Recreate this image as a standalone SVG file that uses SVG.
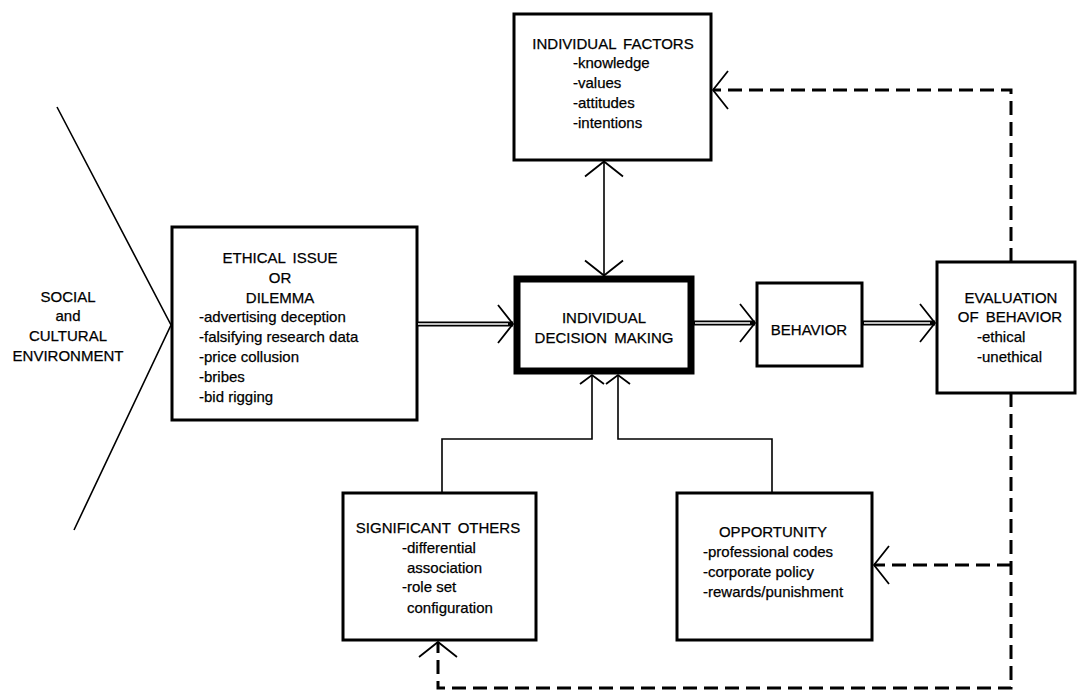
<svg xmlns="http://www.w3.org/2000/svg" width="1082" height="692" viewBox="0 0 1082 692">
<style>
text{font-family:"Liberation Sans",Arial,sans-serif;font-size:15px;fill:#000;stroke:#000;stroke-width:0.25}
.c{text-anchor:middle}
.box{fill:#fff;stroke:#000;stroke-width:3}
.thick{fill:#fff;stroke:#000;stroke-width:7}
.thin{fill:none;stroke:#000;stroke-width:1.6}
.dash{fill:none;stroke:#000;stroke-width:3;stroke-dasharray:14 7}
.dbl{fill:none;stroke:#000;stroke-width:5}
.dblw{fill:none;stroke:#fff;stroke-width:1.4}
</style>
<defs>
<marker id="ah" markerUnits="userSpaceOnUse" orient="auto-start-reverse" markerWidth="44" markerHeight="44" viewBox="-22 -22 44 44" refX="0" refY="0" overflow="visible">
<path d="M-15,-19 L0,0 L-15,19" fill="none" stroke="#000" stroke-width="1.8" stroke-dasharray="none"/>
</marker>
<marker id="ahs" markerUnits="userSpaceOnUse" orient="auto" markerWidth="30" markerHeight="30" viewBox="-15 -15 30 30" refX="0" refY="0" overflow="visible">
<path d="M-9,-12 L0,0 L-9,12" fill="none" stroke="#000" stroke-width="1.8"/>
</marker>
</defs>

<g id="environment">
<path class="thin" d="M57,107 L171,325 L74,530"/>
<text class="c" x="68" y="302">SOCIAL</text>
<text class="c" x="68" y="321">and</text>
<text class="c" x="68" y="341">CULTURAL</text>
<text class="c" x="68" y="361">ENVIRONMENT</text>
</g>

<g id="individual-factors">
<rect class="box" x="514" y="14" width="197" height="146"/>
<text class="c" x="613" y="49" word-spacing="3">INDIVIDUAL FACTORS</text>
<text x="573" y="68">-knowledge</text>
<text x="573" y="88">-values</text>
<text x="573" y="108">-attitudes</text>
<text x="573" y="128">-intentions</text>
</g>

<g id="ethical-issue">
<rect class="box" x="172" y="227" width="245" height="193"/>
<text class="c" x="280" y="263" word-spacing="3">ETHICAL ISSUE</text>
<text class="c" x="280" y="283">OR</text>
<text class="c" x="280" y="303">DILEMMA</text>
<text x="199" y="322">-advertising deception</text>
<text x="199" y="342">-falsifying research data</text>
<text x="199" y="362">-price collusion</text>
<text x="199" y="382">-bribes</text>
<text x="199" y="402">-bid rigging</text>
</g>

<g id="decision-making">
<rect class="thick" x="517" y="279" width="174" height="92"/>
<text class="c" x="604" y="323">INDIVIDUAL</text>
<text class="c" x="604" y="343" word-spacing="3">DECISION MAKING</text>
</g>

<g id="behavior">
<rect class="box" x="757" y="283" width="105" height="83"/>
<text class="c" x="809" y="335">BEHAVIOR</text>
</g>

<g id="evaluation">
<rect class="box" x="937" y="262" width="138" height="131"/>
<text class="c" x="1011" y="303">EVALUATION</text>
<text class="c" x="1010" y="322" word-spacing="3">OF BEHAVIOR</text>
<text x="977" y="342">-ethical</text>
<text x="977" y="362">-unethical</text>
</g>

<g id="significant-others">
<rect class="box" x="343" y="493" width="193" height="147"/>
<text class="c" x="438" y="533" word-spacing="3">SIGNIFICANT OTHERS</text>
<text x="402" y="553">-differential</text>
<text x="407" y="573">association</text>
<text x="402" y="592">-role set</text>
<text x="407" y="613">configuration</text>
</g>

<g id="opportunity">
<rect class="box" x="677" y="493" width="195" height="147"/>
<text class="c" x="773" y="537">OPPORTUNITY</text>
<text x="703" y="557">-professional codes</text>
<text x="703" y="577">-corporate policy</text>
<text x="703" y="597">-rewards/punishment</text>
</g>

<g id="connectors">
<path class="thin" d="M604,161.5 V275.5" marker-start="url(#ah)" marker-end="url(#ah)"/>
<path class="thin" d="M442,493 V439 H592 V375" marker-end="url(#ahs)"/>
<path class="thin" d="M772,493 V439 H618 V375" marker-end="url(#ahs)"/>
<path class="dbl" d="M418,324 H513" marker-end="url(#ah)"/>
<path class="dblw" d="M418,324 H508"/>
<path class="dbl" d="M694,323 H755" marker-end="url(#ah)"/>
<path class="dblw" d="M695,323 H750"/>
<path class="dbl" d="M863,323 H935" marker-end="url(#ah)"/>
<path class="dblw" d="M864,323 H930"/>
<path class="dash" d="M1011,262 V90 H713" marker-end="url(#ah)"/>
<path class="dash" d="M1011,393 V688 H438 V642" marker-end="url(#ah)"/>
<path class="dash" d="M1011,565 H874" marker-end="url(#ah)"/>
</g>
</svg>
